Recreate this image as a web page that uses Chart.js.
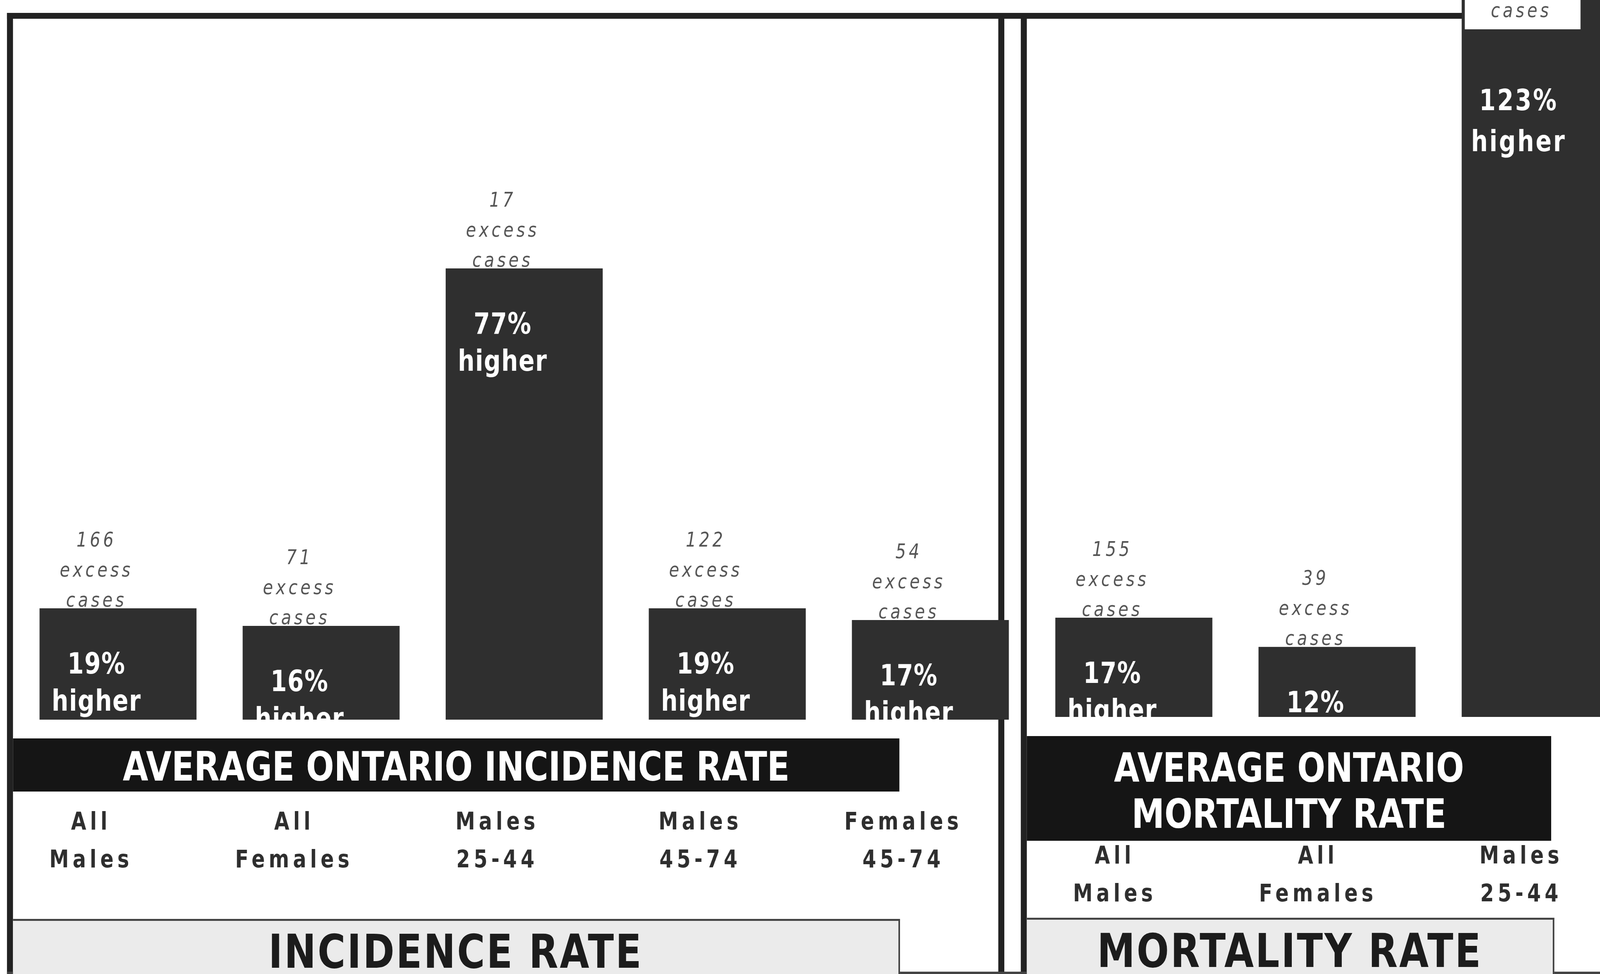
<!DOCTYPE html>
<html>
<head>
<meta charset="utf-8">
<script src="https://cdn.jsdelivr.net/npm/chart.js@4.4.1/dist/chart.umd.min.js"></script>
<style>
  html, body { margin: 0; overflow: hidden; background: #fff; }
  #page { width: 5047px; height: 2493px; overflow: hidden; background: #fff; position: relative; transform-origin: 0 0; font-family: "DejaVu Sans", sans-serif; }
  .rule { position: absolute; background: #222; }
  .band { position: absolute; background: #151515; color: #fff; font-weight: bold; font-size: 104px; display: flex; align-items: center; justify-content: center; text-align: center; box-sizing: border-box; }
  .footer { position: absolute; background: #ebebeb; color: #1c1c1c; font-weight: bold; font-size: 120px; letter-spacing: 5px; display: flex; align-items: center; justify-content: center; box-sizing: border-box; border-top: 5px solid #444; border-right: 5px solid #444; padding-top: 20px; }
  canvas { position: absolute; top: 0; }
</style>
</head>
<body>
<div id="page">
  <div class="rule" style="left:22px;top:33px;width:4590px;height:15px"></div>
  <div class="rule" style="left:22px;top:33px;width:19px;height:2460px"></div>
  <div class="rule" style="left:3149px;top:33px;width:19px;height:2460px"></div>
  <div class="rule" style="left:3220px;top:33px;width:19px;height:2460px"></div>
  <div class="rule" style="left:22px;top:2487px;width:5025px;height:6px;background:#444"></div>

  <div class="band" style="left:41px;top:1890px;width:2796px;height:136px;padding-top:8px">AVERAGE ONTARIO INCIDENCE RATE</div>
  <div class="band" style="left:3239px;top:1884px;width:1654px;height:268px;line-height:118px;padding-top:12px">AVERAGE ONTARIO<br>MORTALITY RATE</div>

  <div class="footer" style="left:41px;top:2352px;width:2798px;height:141px">INCIDENCE RATE</div>
  <div class="footer" style="left:3239px;top:2349px;width:1664px;height:144px">MORTALITY RATE</div>

  <canvas id="incidenceChart" width="3203" height="2442" style="left:52px"></canvas>
  <canvas id="mortalityChart" width="1923" height="2435" style="left:3256px"></canvas>
</div>

<script>
const incidenceCategories = [["All", "Males"], ["All", "Females"], ["Males", "25-44"], ["Males", "45-74"], ["Females", "45-74"]];
const incidencePercentHigher = [19, 16, 77, 19, 17];
const incidenceExcessCases = [166, 71, 17, 122, 54];

const mortalityCategories = [["All", "Males"], ["All", "Females"], ["Males", "25-44"]];
const mortalityPercentHigher = [17, 12, 123];
const mortalityExcessCases = [155, 39, null]; // count is cut off at the top

const yMax = 120;
const noteShift = -68;

// the layout is drawn at 5047x2493 and fitted to whatever window we get
const page = document.getElementById("page");
page.style.transform = `scale(${window.innerWidth / 5047}, ${window.innerHeight / 2493})`;

function drawExcess(ctx, x, casesY, n) {
  const lines = [n == null ? "" : String(n), "excess", "cases"];
  ctx.save();
  ctx.font = "italic 52px 'DejaVu Sans'";
  ctx.letterSpacing = "9px";
  ctx.fillStyle = "#555";
  ctx.textAlign = "center";
  ctx.textBaseline = "middle";
  lines.forEach((t, k) => ctx.fillText(t, x, casesY - (2 - k) * 77));
  ctx.restore();
}

// excess-case notes sit behind the bars, "% higher" sits inside them
const barNotes = {
  id: "barNotes",
  beforeDraw(chart) {
    chart.ctx.letterSpacing = "12px";
  },
  beforeDatasetsDraw(chart) {
    const ds = chart.data.datasets[0];
    chart.getDatasetMeta(0).data.forEach((bar, i) => {
      if (ds.data[i] > chart.scales.y.max) return;
      drawExcess(chart.ctx, bar.x + noteShift, bar.y - 18, ds.excess[i]);
    });
  },
  afterDatasetsDraw(chart) {
    const ctx = chart.ctx;
    const ds = chart.data.datasets[0];
    chart.getDatasetMeta(0).data.forEach((bar, i) => {
      const v = ds.data[i];
      const over = v > chart.scales.y.max;
      const x = bar.x + noteShift;
      const top = over ? 0 : bar.y;
      if (over) {
        ctx.save();
        ctx.fillStyle = "#fff";
        ctx.fillRect(x - 170, 0, 365, 75);
        ctx.restore();
        drawExcess(ctx, x + 8, 30, ds.excess[i]);
      }
      ctx.save();
      ctx.beginPath();
      ctx.rect(bar.x - bar.width / 2, top, bar.width, bar.base - top);
      ctx.clip();
      ctx.font = "bold 74px 'DejaVu Sans'";
      ctx.letterSpacing = over ? "5px" : "2px";
      ctx.fillStyle = "#fff";
      ctx.textAlign = "center";
      ctx.textBaseline = "middle";
      const y0 = over ? 263 : bar.y + 148;
      ctx.fillText(v + "%", x, y0);
      ctx.fillText("higher", x, y0 + (over ? 105 : 95));
      ctx.restore();
    });
  },
};

function makeChart(id, labels, values, excess, tickPadding, labelOffset) {
  return new Chart(document.getElementById(id), {
    type: "bar",
    data: {
      labels: labels,
      datasets: [
        {
          data: values,
          excess: excess,
          backgroundColor: "#2f2f2f",
          borderWidth: 0,
          categoryPercentage: 1,
          barPercentage: 0.773,
          clip: false,
        },
      ],
    },
    options: {
      responsive: false,
      devicePixelRatio: 1,
      animation: false,
      layout: { padding: { top: 42, left: 0, right: 0, bottom: 0 } },
      plugins: { legend: { display: false }, tooltip: { enabled: false } },
      scales: {
        x: {
          grid: { display: false, drawTicks: false },
          border: { display: false },
          ticks: {
            color: "#2e2e2e",
            font: { family: "DejaVu Sans", size: 62, weight: "bold", lineHeight: 1.56 },
            padding: tickPadding,
            labelOffset: labelOffset,
            maxRotation: 0,
            autoSkip: false,
          },
          afterFit: (scale) => {
            scale.height = 600;
            scale.paddingLeft = 0;
            scale.paddingRight = 0;
          },
        },
        y: { display: false, min: 0, max: yMax },
      },
    },
    plugins: [barNotes],
  });
}

makeChart("incidenceChart", incidenceCategories, incidencePercentHigher, incidenceExcessCases, 217, -85);
makeChart("mortalityChart", mortalityCategories, mortalityPercentHigher, mortalityExcessCases, 311, -60);
</script>
</body>
</html>
